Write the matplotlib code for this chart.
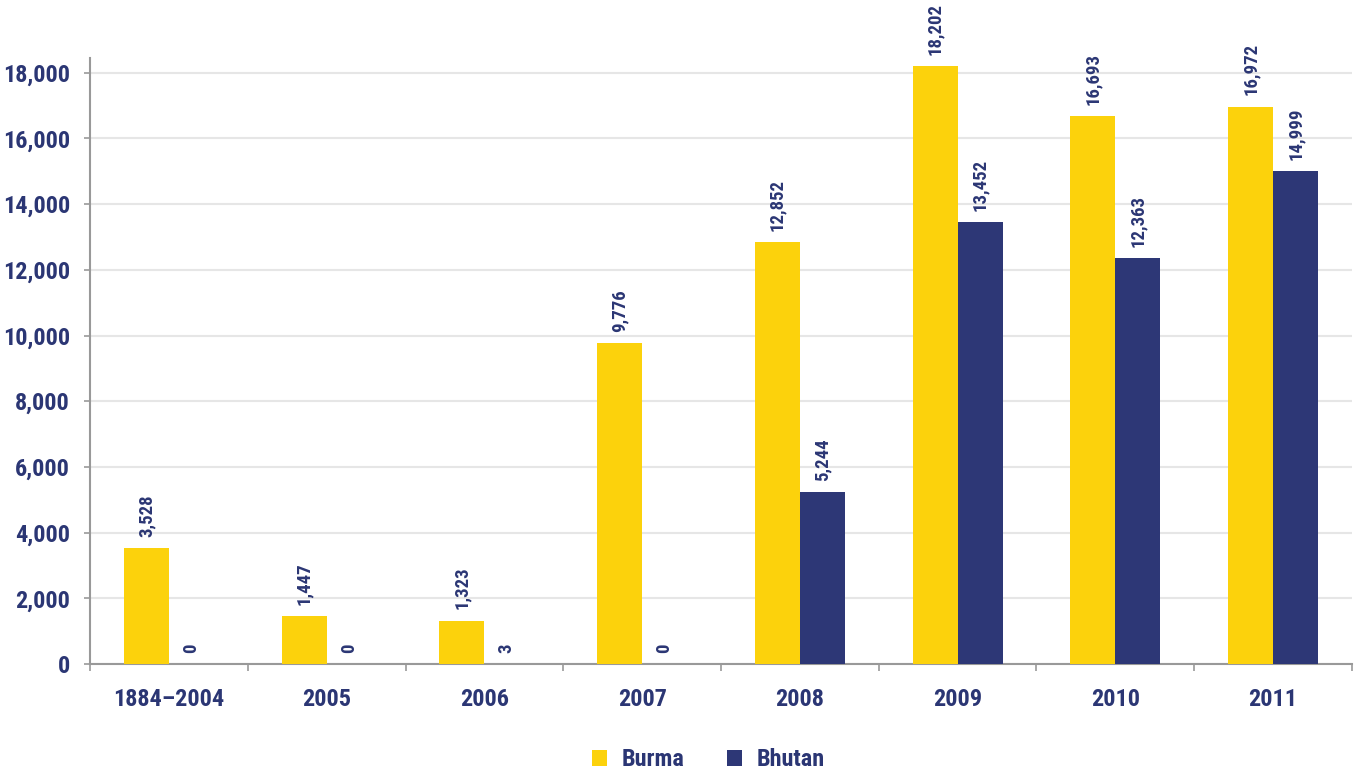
import os
import numpy as np
import matplotlib
matplotlib.use("Agg")
import matplotlib.pyplot as plt
from matplotlib import font_manager as fm
from matplotlib.ticker import FuncFormatter, FixedLocator

categories = ["1884\u20132004", "2005", "2006", "2007", "2008", "2009", "2010", "2011"]
burma = [3528, 1447, 1323, 9776, 12852, 18202, 16693, 16972]
bhutan = [0, 0, 3, 0, 5244, 13452, 12363, 14999]

yellow = "#fcd20c"
navy = "#2d3776"
text_col = "#2b3674"


# look for a bold condensed face, fall back to DejaVu Sans Bold
def pick_font():
    prefs = ["robotocondensed", "roboto condensed", "extracondensed", "semicondensed",
             "condensed", "narrow"]
    best = None
    best_rank = 99
    for f in fm.fontManager.ttflist:
        n = (f.name + " " + os.path.basename(f.fname)).lower().replace("-", "")
        if "italic" in n or f.style != "normal":
            continue
        w = f.weight if isinstance(f.weight, int) else 400
        if w < 600 or w > 750:
            continue
        for i, p in enumerate(prefs):
            if p.replace("-", "") in n:
                if i < best_rank:
                    best, best_rank = f, i
                break
    if best is None:
        return fm.FontProperties(family="DejaVu Sans", weight="bold")
    return fm.FontProperties(fname=best.fname)


fp = pick_font()


def fprop(size):
    p = fp.copy()
    p.set_size(size)
    return p


fig = plt.figure(figsize=(13.54, 7.77), dpi=100)
ax = fig.add_axes([0.0665, 0.1454, 0.932, 0.78])

x = np.arange(len(categories))
w = 0.285
b1 = ax.bar(x - w / 2, burma, w, color=yellow, label="Burma", zorder=3)
b2 = ax.bar(x + w / 2, bhutan, w, color=navy, label="Bhutan", zorder=3)

for bars, vals in [(b1, burma), (b2, bhutan)]:
    for r, v in zip(bars, vals):
        ax.annotate(f"{v:,}", (r.get_x() + r.get_width() / 2, r.get_height()),
                    xytext=(0, 8), textcoords="offset points", rotation=90,
                    ha="center", va="bottom", color=text_col,
                    fontproperties=fprop(13.5))

ax.set_xlim(-0.5, len(categories) - 0.5)
ax.set_ylim(0, 18450)
ax.set_yticks(np.arange(0, 18001, 2000))
ax.yaxis.set_major_formatter(FuncFormatter(lambda v, p: f"{int(v):,}"))
ax.set_xticks(x)
ax.set_xticklabels(categories)
ax.xaxis.set_minor_locator(FixedLocator(np.arange(-0.5, len(categories), 1)))
ax.tick_params(axis="x", which="major", length=0, pad=17, labelcolor=text_col)
ax.tick_params(axis="x", which="minor", length=5, color="#999999", width=1.2)
ax.tick_params(axis="y", length=4.5, color="#999999", width=1.2, labelcolor=text_col, pad=10)
for lbl in ax.get_xticklabels() + ax.get_yticklabels():
    lbl.set_fontproperties(fprop(17.5))

ax.grid(axis="y", color="#e6e6e6", linewidth=1.5, zorder=0)
for s in ["top", "right"]:
    ax.spines[s].set_visible(False)
for s in ["left", "bottom"]:
    ax.spines[s].set_color("#999999")
    ax.spines[s].set_linewidth(1.5)

leg = fig.legend(loc="center", bbox_to_anchor=(0.523, 0.022), ncol=2, frameon=False,
                 prop=fprop(17.5), handlelength=0.62, handleheight=0.62, columnspacing=1.75,
                 handletextpad=0.6)
for t in leg.get_texts():
    t.set_color(text_col)

fig.savefig("out.png", dpi=100)
